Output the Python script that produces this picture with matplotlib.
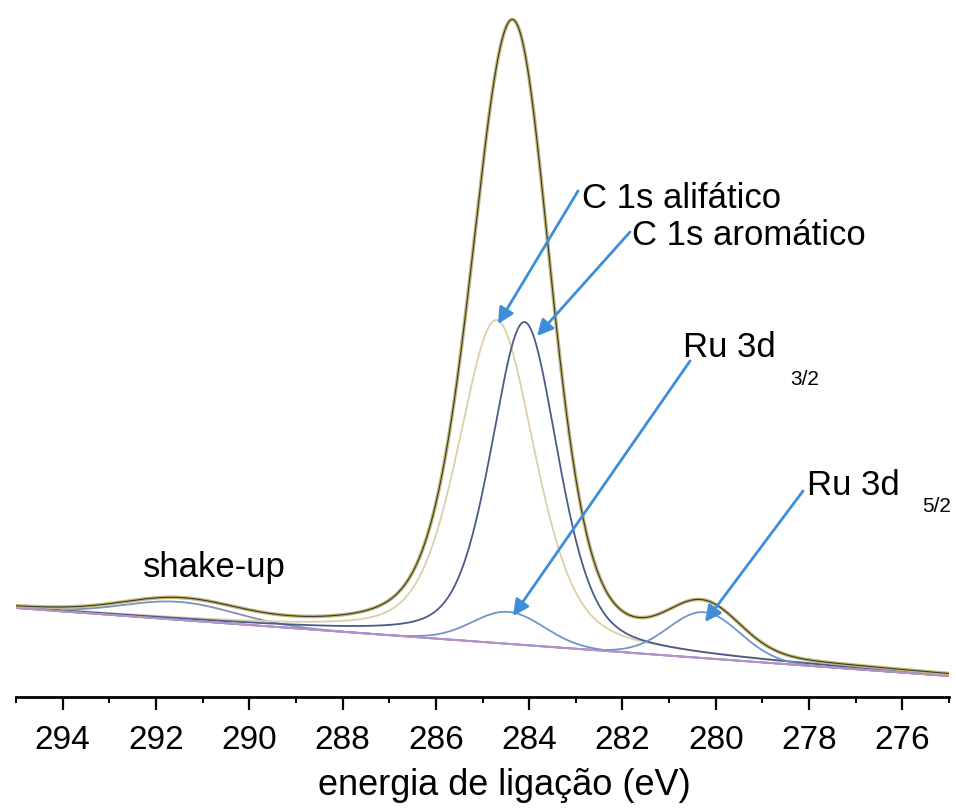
import numpy as np
import matplotlib
matplotlib.use("Agg")
import matplotlib.pyplot as plt

# --------------------------
# Values (intensity in arbitrary units)
# --------------------------
peak_names = ["shake-up", "C 1s alifatico", "C 1s aromatico", "Ru 3d 3/2", "Ru 3d 5/2"]
peak_centers = [291.5, 284.7, 284.1, 284.45, 280.25]      # eV
peak_heights = [18, 323, 323, 32, 46]                      # above background
peak_fwhm = [2.8, 1.95, 1.7, 1.8, 1.8]                     # eV
peak_lorentz = [0.0, 0.42, 0.4, 0.0, 0.0]                  # Lorentzian fraction
peak_colors = ["#8290b4", "#dccfa8", "#4b5b88", "#6f96c4", "#6f96c4"]

background_energy = [295, 275]
background_level = [89, 21]

tick_values = [294, 292, 290, 288, 286, 284, 282, 280, 278, 276]

W, H = 956, 812


def px(x, y):
    # pixel position (from top-left) -> figure fraction
    return x / W, 1 - y / H


def pseudo_voigt(e, c, h, fwhm, eta):
    g = np.exp(-4 * np.log(2) * ((e - c) / fwhm) ** 2)
    lor = 1 / (1 + 4 * ((e - c) / fwhm) ** 2)
    return h * ((1 - eta) * g + eta * lor)


energy = np.linspace(295, 275, 1201)
background = np.interp(energy, background_energy[::-1], background_level[::-1])
components = [pseudo_voigt(energy, c, h, f, eta)
              for c, h, f, eta in zip(peak_centers, peak_heights, peak_fwhm, peak_lorentz)]
envelope = background + np.sum(components, axis=0)

# --------------------------
# Figure
# --------------------------
fig = plt.figure(figsize=(W / 100, H / 100), dpi=100)
ax = fig.add_axes([16 / W, 114 / H, 933 / W, 698 / H])
ax.set_xlim(295, 275)
ax.set_ylim(0, 698)

for comp, col in zip(components, peak_colors):
    ax.plot(energy, background + comp, color=col, lw=1.3, zorder=3)
ax.plot(energy, background, color="#b98fcc", lw=1.4, zorder=3.5)
ax.plot(energy, envelope, color="#c4b878", lw=2.6, zorder=4)
ax.plot(energy, envelope, color="#3b3a2c", lw=0.8, zorder=5)

# axis style: only bottom spine
for s in ["left", "right", "top"]:
    ax.spines[s].set_visible(False)
ax.spines["bottom"].set_linewidth(2)
ax.set_yticks([])
ax.set_xticks(tick_values)
ax.set_xticks(np.arange(295, 274, -1), minor=True)
ax.tick_params(axis="x", which="major", direction="out", length=9.5, width=1.6, pad=10,
               labelsize=24)
ax.tick_params(axis="x", which="minor", direction="out", length=4.5, width=1.4)
for lab in ax.get_xticklabels():
    lab.set_family("Liberation Sans")
ax.set_xlabel("energia de ligação (eV)", fontsize=26, family="Liberation Sans")
ax.xaxis.set_label_coords((504 - 16) / 933, -(768 - 698) / 698)

# --------------------------
# Labels and arrows
# --------------------------
arrow_col = "#3d8ed8"
font = dict(family="Liberation Sans", color="black")


def e_of(xp):
    return 295 - (xp - 16) / 46.65


def i_of(yp):
    return 698 - yp


arrows = [((578, 192), (498, 325)),
          ((630, 233), (537, 337)),
          ((690, 362), (513, 617)),
          ((803, 492), (705, 623))]
for (tx, ty), (hx, hy) in arrows:
    ax.annotate("", xy=(e_of(hx), i_of(hy)), xytext=(e_of(tx), i_of(ty)),
                arrowprops=dict(arrowstyle="-|>", color=arrow_col, lw=2,
                                mutation_scale=24, shrinkA=0, shrinkB=0),
                zorder=6)

fig.text(*px(582, 208), "C 1s alifático", fontsize=25, ha="left", va="baseline", **font)
fig.text(*px(632, 245), "C 1s aromático", fontsize=25, ha="left", va="baseline", **font)
fig.text(*px(683, 357), "Ru 3d", fontsize=25, ha="left", va="baseline", **font)
fig.text(*px(790, 385), "3/2", fontsize=15, ha="left", va="baseline", **font)
fig.text(*px(807, 495), "Ru 3d", fontsize=25, ha="left", va="baseline", **font)
fig.text(*px(922, 512), "5/2", fontsize=15, ha="left", va="baseline", **font)
fig.text(*px(143, 577), "shake-up", fontsize=25, ha="left", va="baseline", **font)

fig.savefig("out.png", dpi=100, facecolor="white")
